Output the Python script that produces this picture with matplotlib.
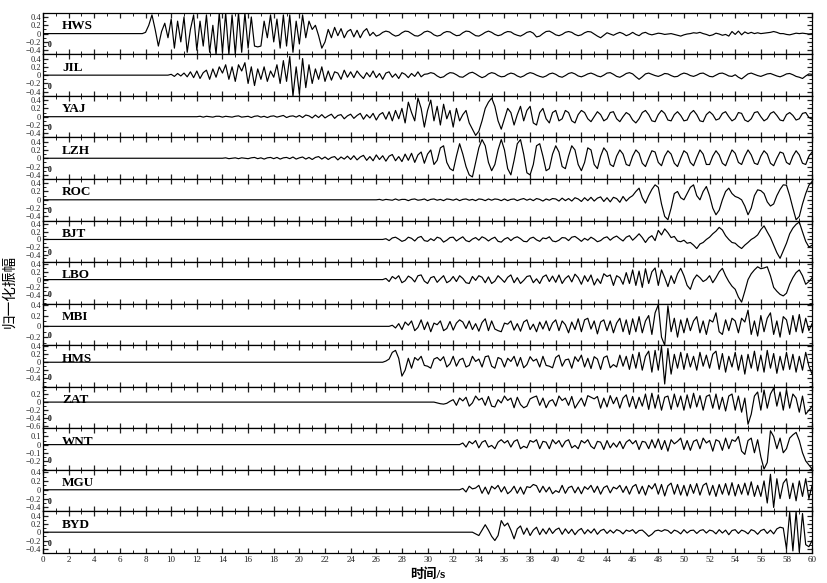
import numpy as np
import matplotlib
matplotlib.use("Agg")
import matplotlib.pyplot as plt
from matplotlib.ticker import MultipleLocator

# ---------------- data (amplitudes in hundredths, sampled every 0.25 s after onset) ----------------
stations = ["HWS", "JIL", "YAJ", "LZH", "ROC", "BJT", "LBO", "MBI", "HMS", "ZAT", "WNT", "MGU", "BYD"]
onsets = [7.75, 9.75, 12.0, 14.0, 26.0, 26.5, 26.5, 27.0, 26.5, 30.5, 32.5, 32.5, 33.25]
dt = 0.25

hws = [0,
       3, 20, 45, 10, -30, 5, 25, -10, 35, -35, 30, -20, 40, -45, 10, 45,
       -40, 30, -30, 45, -45, 20, -50, 50, -45, 50, -50, 45, -50, 50, -45, 50,
       -35, 40, -30, -32, -30, 30, -10, 45, -20, 35, -35, 45, -30, 45, -45, 30,
       -25, 45, -10, 30, 10, 20, -5, -35, -20, 10, -10, 15, -5, 12, -10, 5,
       10, -8, 8, -10, 5, 12, -5, 3,
       -6, -3, 3, 6, 4, -2, -6, -4, 2, 6, 5, 0, -5, -6, -2, 4,
       6, 3, -3, -6, -4, 2, 5, 4, -1, -5, -4, 2, 6, 5, 0, -5,
       -6, -2, 3, 6, 3, -2, -5, -3, 2, 5, 4, -1, -4, -6, -2, 3,
       5, 1, -8, -6, 0, 5, 6, 2, -3, -5, -2, 3, 5, 3, -2, -5,
       -3, 2, 5, 4, -1, -6, -10, -4, 2, -1, -4, 0, 3, 0, -5, -2,
       3, -2, -5, 1, 3, -1, -3, -1, 1, 0, -2, -1, 0, -2, -4, -6,
       -3, -1, 0, 2, 1, 3, 0, -2, -5, -3, 1, -1, -4, -2, -6, 5,
       -2, 6, -3, 4, 0, 3, 0, 2, 0, 1, 2, 3, 5, 3, 0, 0,
       -2, -3, -1, 1, 0, 1, 0, -1, 0]

jil = [0,
       2, -3, 4, -2, 5, -4, 8, -6, 10, -8, 6, 12, -10, 15, -5, 20,
       5, 25, -10, 20, -15, 25, 10, 30, -20, 20, -25, 15, -10, 20, -15, 10,
       -5, 25, -20, 35, -15, 45, -50, 20, -45, 40, -30, 25, -20, 15, -10, 20,
       -15, 10, -12, 8, 5, -10, 12, -5, 8, -6, 10, 0, -8, 6, -4, 10,
       -6, 4, -10, 5, 8, -5, 3, -8, 6, 2, -6, 4, -3, 8, -4, 2,
       3, 6, 4, -2, -6, -4, 2, 6, 5, 1, -4, -5, 0, 5, 7, 3,
       -2, -6, -3, 3, 6, 4, -1, -4, -3, 2, 5, 3, -2, -5, -2, 3,
       6, 4, 0, -3, -5, -2, 3, 5, 2, -3, -5, -1, 4, 6, 3, -2,
       -4, -1, 3, 5, 2, -2, -4, 0, 5, 6, 2, -3, -5, -1, 4, 6,
       3, -4, -10, -4, 3, 5, 2, -1, -3, 0, 4, 3, -1, -4, -3, 2,
       5, 3, -1, -3, 0, 4, 5, 1, -3, -4, 0, 4, 5, 2, -2, -3,
       1, -5, -9, -3, 3, 5, 2, -1, -3, 0, 3, 4, 1, -2, -4, -1,
       3, 4, 1, -3, -5, -8, -2, 3, 2]

yaj = [0, 1, -1, 1, 0, -1, 1, 1, -1, 1, 0, -1, 1, 2, -1, 0,
       1, -2, 1, 2, -1, 1, -2, 1, 2, -1, 1, 3, -2, 1, 2, -1,
       3, -2, 4, 2, -3, 4, -2, 5, -3, 2, 6, -4, 3, 5, -5, 2,
       6, -4, 3, 8, -6, 5, -3, 8, -8, 5, 10, -6, 12, -10, 15, -5,
       20, -15, 35, 10, -10, 45, 20, -25, 15, 40, -10, 25, -20, 30, -5, 15,
       -25, 20, -10, 5, 15, -15, -30, -45, -35, -10, 20, 35, 45, 25, -10, -30,
       -5, 20, 10, -20, 5, 25, -10, 15, 25, -15, -20, 10, 20, -5, -15, 10,
       15, -10, -5, 15, 10, -10, -15, 5, 15, 10, -5, -12, 0, 12, 5, -10,
       -5, 10, 12, -5, -12, 0, 10, 5, -8, -15, -5, 10, 15, 5, -10, -12,
       5, 15, 8, -8, -10, 5, 12, 3, -10, -8, 8, 15, 5, -10, -12, 5,
       12, 5, -8, -5, 8, 12, 0, -10, -5, 10, 8, -8, -12, -5, 10, 12,
       0, -10, -5, 8, 12, 3, -8, -10, 5, 10, 3, -8, -5, 8, 10, -2,
       -6]

lzh = [0, 1, -1, 0, 1, -1, 1, 0, -1, 1, 2, -1, 1, -2, 1, 2,
       -1, 2, -2, 1, 2, -1, 3, -2, 1, 3, -2, 2, -3, 2, 4, -2,
       3, -3, 2, 4, -4, 3, -2, 5, -3, 6, -4, 3, 7, -5, 4, -6,
       8, -3, 6, -7, 5, 9, -6, 4, -8, 10, -5, 12, -10, 8, 15, -12,
       10, 20, -15, -5, 25, 30, -10, -25, -30, 5, 35, 10, -20, -40, -45, -10,
       25, 45, 30, -10, -30, -15, 20, 45, 20, -25, -40, -5, 35, 45, 10, -35,
       -40, -15, 30, 35, 5, -30, -25, 10, 30, 15, -20, -25, 5, 30, 20, -15,
       -30, -10, 25, 20, -15, -25, 5, 25, 15, -15, -20, 5, 20, 10, -15, -18,
       5, 20, 12, -12, -20, 0, 18, 15, -10, -18, 5, 18, 10, -12, -20, 0,
       18, 12, -10, -18, 2, 20, 10, -15, -15, 5, 18, 8, -12, -18, 2, 20,
       12, -10, -15, 5, 20, 8, -12, -15, 5, 18, 10, -12, -18, 0, 15, 12,
       -10, -15, 5, 18, 8, -12, -15, 5, 15]

roc = [0, 1, -1, 1, 0, -1, 2, -1, 1, 1, -2, 1, 2, -1, 0, 2,
       -2, 1, 2, -1, 1, -2, 2, 1, -1, 2, -2, 1, 2, -1, 1, -2,
       2, 1, -2, 2, -1, 2, 1, -2, 2, -2, 1, 2, -2, 1, 3, -1,
       2, -2, 3, 1, -3, 2, -1, 3, 2, -3, 4, -2, 3, -3, 5, 2,
       -4, 5, -2, 6, -3, 4, 7, -4, 5, -5, 6, 3, -6, 8, -3, 5,
       10, 20, 28, 5, -8, 10, 25, 36, 30, -10, -40, -48, -20, 15, 20, 5,
       0, 15, 30, 36, 10, 0, 20, 32, 10, -20, -36, -25, 0, 20, 28, 15,
       8, 5, 0, -15, -36, -20, 10, 24, 22, 15, -5, -15, -10, 10, 25, 36,
       35, 10, -20, -48, -40, -10, 15, 35, 44]

bjt = [0, 2,
       -3, 4, 6, 1, -5, -2, 6, 3, -4, 5, 8, -3, -5, 2, -3, 6,
       3, -7, -2, 5, 6, -4, 2, 7, -3, -6, 1, 5, -2, 7, 3, -4,
       2, 6, -5, -7, 1, 5, -3, 4, 7, 2, -5, -6, 3, 6, -1, -5,
       4, 2, 7, -4, -6, -2, 5, 4, -3, 6, 8, 2, -5, 3, -2, 6,
       1, -6, -3, 4, 7, -2, 5, 9, 2, -4, 6, 10, -2, 6, 15, 5,
       -8, 4, 10, -3, 24, 12, 28, 18, 5, 8, -4, -6, -2, -10, -8, -15,
       -24, -12, -8, 0, 6, 15, 22, 32, 25, 10, 0, -8, -10, -18, -24, -15,
       -8, 0, 5, 12, 26, 36, 20, 5, -15, -35, -50, -30, -10, 15, 30, 40,
       46, 20, -5, -20, -15]

lbo = [0, 3,
       -5, 8, 2, 10, -8, -3, 9, 4, -6, 10, 12, -4, -10, 5, 8, -7,
       2, 10, -8, -3, 8, -5, 10, 3, -8, -10, 8, -2, 10, 6, -8, 7,
       -10, -4, 10, 2, -7, 6, 12, -8, 5, -10, -2, 8, 10, -8, 2, -10,
       7, 12, -5, 9, -7, 12, -10, 3, 10, -6, 14, 5, -12, 10, -5, 12,
       -14, 2, -10, 15, 8, 12, -15, 10, 5, -12, 18, -10, 25, -15, 22, -20,
       28, -10, 20, 30, -15, 25, 5, -18, 10, -10, 15, 29, 10, -15, -25, 0,
       12, 5, -5, 0, 10, -8, 5, 20, 29, 10, -5, -17, -25, -45, -58, -30,
       0, 15, 25, 33, 28, 30, 33, 10, -20, -30, -38, -42, -35, -12, 5, 18,
       25, 10, -12, -5, 5]

mbi = [0, 2, -3, 5, -6, 8, 2, 10, -8, -2, 12, -6, 8, -10, 6, 3,
       10, -8, -4, 9, -7, 6, 12, 8, -4, 10, -6, 5, -9, 7, 14, -8,
       10, -5, -8, -10, 6, 4, 10, -7, 5, -9, 8, 12, -6, 4, -10, 8,
       -5, 10, -8, 6, 12, -8, 10, 3, -12, 8, -6, 14, -10, 12, 15, -5,
       10, -14, 8, 12, -8, 10, -12, 6, 15, -10, 12, -15, 14, -10, 18, -12,
       10, 20, -15, 25, 40, -20, -35, 38, -10, 15, -20, 12, -12, 15, -8, 10,
       18, -12, 10, -15, 12, 8, 25, -10, -15, 12, -8, 15, 10, -12, 15, 8,
       30, -15, 10, -18, 20, -10, 15, 25, -15, 10, -20, 18, 12, -15, 20, -10,
       22, -12, 15, -8, 5]

hms = [0, 3,
       8, 25, 30, 10, -35, -20, 10, -15, 12, 5, 15, -8, -10, -15, 8, 12,
       4, 14, -12, -4, 15, -10, 6, 10, -12, -8, 15, 2, 8, -12, 14, 16,
       -10, -15, 12, 8, -12, 10, 2, 15, -10, 12, -14, -6, 14, 3, 8, -12,
       15, -8, -10, -14, 12, 18, -10, 6, 8, -15, 14, 2, 18, -12, 10, -16,
       14, 8, -18, 12, 16, -14, -6, -12, 18, -10, 15, -18, 20, -15, 25, -20,
       15, 28, -25, 30, -20, 40, -55, 35, -30, 20, -15, 25, -18, 22, -12, 15,
       -20, 25, -10, 18, -15, 20, 28, -18, 22, -25, 15, -12, 25, -20, 18, -30,
       20, -15, 28, -22, 18, -25, 30, -15, 22, -28, 15, -20, 25, -18, 20, -25,
       15, -20, 25, -10, -30]

zat = [0, -2,
       -4, -5, -3, 2, 6, -8, 10, 3, 12, -10, -2, 15, 5, 10, -8, 14,
       -10, -12, 6, -2, 15, 4, 10, -14, 12, -6, -14, -10, 8, 12, 15, -8,
       10, -14, 2, 6, -10, 15, 4, 10, -8, 14, -15, -2, 10, -10, 16, 12,
       8, 14, -15, 10, -12, 16, -4, 12, -15, 10, 18, -12, 14, -16, 12, -10,
       20, -18, 22, -15, 18, -20, 12, 15, -18, 20, -12, 15, -20, 18, -15, 22,
       -12, 16, -20, 14, 18, -15, 20, -18, 12, -22, 15, 20, -20, 15, -25, 10,
       -55, -30, 15, 25, -20, 30, -15, 20, 35, -10, 25, -20, 30, -15, 20, 10,
       -25, 15, -30, -20, -10]

wnt = [0, 2,
       -3, 4, 1, 5, -4, 3, 5, -3, -1, -5, 3, 6, 2, 5, -3, 4,
       6, -5, -2, -4, 5, 3, 6, -5, 4, 3, -5, 6, 1, 5, -3, 4,
       6, -4, -1, -5, 5, 2, 6, -2, -5, 4, 3, -6, 5, -4, 2, -3,
       4, -5, 3, 6, 1, 5, -6, 4, 3, -5, 6, -4, 7, -6, 5, -8,
       6, 1, 4, 8, -6, 5, -7, 4, 6, -5, 8, 2, 5, -8, 6, 4,
       -7, 8, -5, 6, 4, 10, -8, -12, 5, 8, -10, 6, -15, -30, -22, 17,
       10, -5, 8, -10, -5, 8, 12, 15, 5, -10, -20, -25, -30]

mgu = [0, 3,
       -5, 8, 2, 4, 10, -8, 6, -10, 8, 2, 10, -5, 7, -9, -3, 8,
       -8, 6, -10, 7, 5, 12, 9, -6, 8, -5, 6, -9, -2, -6, 10, -8,
       5, 8, -7, 6, -9, 7, 1, 10, -6, 8, -10, 5, 9, -7, 6, 2,
       10, -6, 8, -10, 7, 12, -9, 8, -12, 10, 2, 14, -10, 12, -14, 9,
       15, -10, 12, -12, 10, -14, 12, -8, 14, -12, 10, 15, -12, 10, -15, 12,
       -10, 14, -12, 16, -14, 12, -10, 15, -12, 18, -15, 10, -15, 20, -30, 35,
       -40, 25, -20, 15, 25, -20, 15, -25, 20, -15, 25, -20, 10]

byd = [0, 0, -4,
       -8, 5, 18, 5, -10, -20, -8, 28, 15, 22, 5, -16, 8, 15, -5, 10,
       -8, 5, 12, -6, 8, -4, 10, -3, 6, 10, -5, 8, -3, 7, -6, 4,
       9, -4, 6, -2, 8, -5, 4, 7, -3, 5, -2, 6, 3, -4, 5, 2,
       6, -3, 4, 5, -2, -10, -5, 3, 5, 2, 6, 4, -3, 5, 2, -4,
       6, -2, 4, 5, -3, 4, 6, -2, 5, 3, -4, 6, -2, 5, -6, 4,
       6, -3, 5, 2, -4, 6, 3, -5, 4, 7, -3, 5, -4, 8, 12, 10,
       -40, 48, -45, 50, -48, 45, -30, -35, -20]

traces = [hws, jil, yaj, lzh, roc, bjt, lbo, mbi, hms, zat, wnt, mgu, byd]

ylims = [(-0.5, 0.5), (-0.5, 0.5), (-0.5, 0.5), (-0.5, 0.5), (-0.5, 0.5), (-0.6, 0.5),
         (-0.62, 0.45), (-0.35, 0.42), (-0.62, 0.43), (-0.65, 0.38), (-0.31, 0.2),
         (-0.49, 0.45), (-0.5, 0.5)]
yticks = [[0.4, 0.2, 0, -0.2, -0.4]] * 7 + [[0.4, 0.2, 0, -0.2], [0.4, 0.2, 0, -0.2, -0.4],
                                           [0.2, 0, -0.2, -0.4, -0.6], [0.1, 0, -0.1, -0.2],
                                           [0.4, 0.2, 0, -0.2, -0.4], [0.4, 0.2, 0, -0.2, -0.4]]
xlabel = "时间/s"
ylabel = "归一化振幅"

# ---------------- plotting ----------------
plt.rcParams['font.family'] = ['Liberation Serif', 'Noto Sans CJK SC', 'DejaVu Sans']
plt.rcParams['axes.unicode_minus'] = True

fig, axes = plt.subplots(len(stations), 1, figsize=(8.27, 5.83), dpi=100, sharex=True)
fig.subplots_adjust(left=0.052, right=0.982, top=0.978, bottom=0.0515, hspace=0)


def fmt(v):
    if v == 0:
        return "0"
    s = ("%.1f" % abs(v))
    return ("\u2212" + s) if v < 0 else s


for ax, name, t0, vals, yl, yt in zip(axes, stations, onsets, traces, ylims, yticks):
    v = np.asarray(vals, dtype=float) / 100.0
    t = t0 + dt * np.arange(len(v))
    t = np.concatenate([[0.0], t])
    v = np.concatenate([[0.0], v])
    ax.plot(t, v, color='black', lw=0.85)
    ax.set_xlim(0, 60)
    ax.set_ylim(*yl)
    ax.set_yticks(yt)
    ax.set_yticklabels([fmt(y) for y in yt])
    step = abs(yt[0] - yt[1])
    ax.yaxis.set_minor_locator(MultipleLocator(step / 2))
    ax.xaxis.set_major_locator(MultipleLocator(2))
    ax.xaxis.set_minor_locator(MultipleLocator(1))
    ax.tick_params(which='both', direction='in', top=True, right=True,
                   labelsize=6, pad=1.5, color='#222222', labelcolor='#222222')
    ax.tick_params(which='major', length=3.5, width=0.9)
    ax.tick_params(which='minor', length=2, width=0.7)
    for sp in ax.spines.values():
        sp.set_linewidth(0.9)
    ax.text(0.025, 0.68, name, transform=ax.transAxes, fontsize=9.5,
            fontweight='bold', va='center', ha='left')
    ax.text(0.0065, 0.22, "0", transform=ax.transAxes, fontsize=5.5,
            fontweight='bold', va='center', ha='left')

axes[-1].tick_params(axis='x', labelsize=6.5, pad=2)
axes[-1].set_xlabel(xlabel, fontsize=9.5, fontweight='bold', labelpad=3)
fig.text(0.011, 0.5, ylabel, rotation=90, va='center', ha='center', fontsize=10.5,
         family=['Noto Sans CJK SC', 'DejaVu Sans'])

fig.savefig("out.png", dpi=100)
